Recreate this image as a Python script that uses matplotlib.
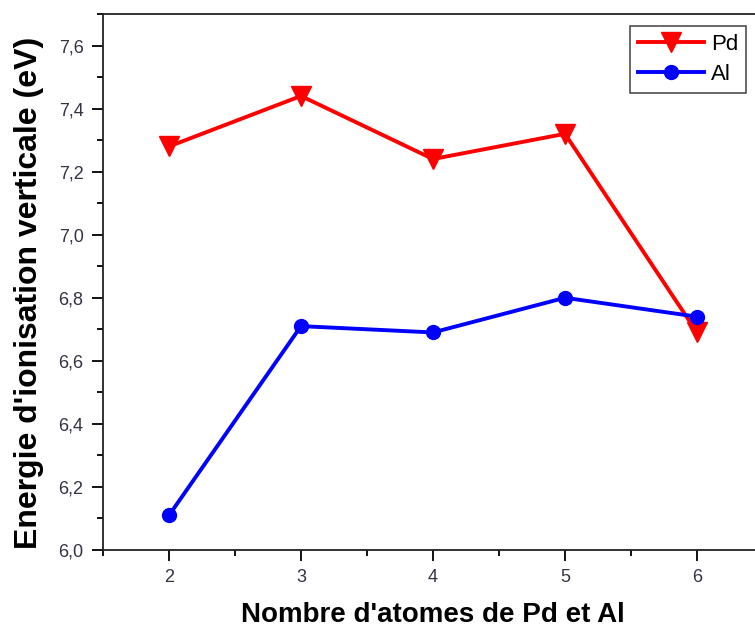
import matplotlib.pyplot as plt
from matplotlib.ticker import MultipleLocator, FuncFormatter

plt.rcParams['font.family'] = ['Liberation Sans', 'DejaVu Sans']

n_atoms = [2, 3, 4, 5, 6]
pd_energy = [7.28, 7.44, 7.24, 7.32, 6.69]
al_energy = [6.11, 6.71, 6.69, 6.80, 6.74]

fig = plt.figure(figsize=(7.55, 6.31), dpi=100)
ax = fig.add_axes([103 / 755, 81 / 631, 660 / 755, 536 / 631])

ax.plot(n_atoms, pd_energy, color='#ff0000', lw=2.8, marker='v', ms=14,
        label='Pd')
ax.plot(n_atoms, al_energy, color='#0000ff', lw=2.8, marker='o', ms=10,
        label='Al')

ax.set_xlim(1.5, 6.5)
ax.set_ylim(6.0, 7.7)
ax.xaxis.set_major_locator(MultipleLocator(1))
ax.xaxis.set_minor_locator(MultipleLocator(0.5))
ax.yaxis.set_major_locator(MultipleLocator(0.2))
ax.yaxis.set_minor_locator(MultipleLocator(0.1))
ax.yaxis.set_major_formatter(FuncFormatter(lambda v, p: '{:.1f}'.format(v).replace('.', ',')))

ax.tick_params(which='major', direction='out', length=8, width=1.3,
               labelsize=13, labelcolor='#333344', pad=6)
ax.tick_params(which='minor', direction='out', length=4, width=1.3)
ax.tick_params(axis='x', which='major', pad=6)

for s in ax.spines.values():
    s.set_linewidth(1.3)
    s.set_color('#222222')
ax.spines['right'].set_visible(False)

ax.set_xlabel("Nombre d'atomes de Pd et Al", fontsize=20, fontweight='bold',
              labelpad=11)
ax.set_ylabel("Energie d'ionisation verticale (eV)", fontsize=23,
              fontweight='bold')
ax.yaxis.set_label_coords(-0.09, 0.48)

leg = ax.legend(loc='upper right', bbox_to_anchor=(0.981, 0.985),
                fontsize=16, frameon=True, fancybox=False, edgecolor='#222222',
                handlelength=3.0, borderpad=0.35, labelspacing=0.4,
                handletextpad=0.3, borderaxespad=0.2)
leg.get_frame().set_linewidth(1.2)

fig.savefig('out.png', dpi=100)
